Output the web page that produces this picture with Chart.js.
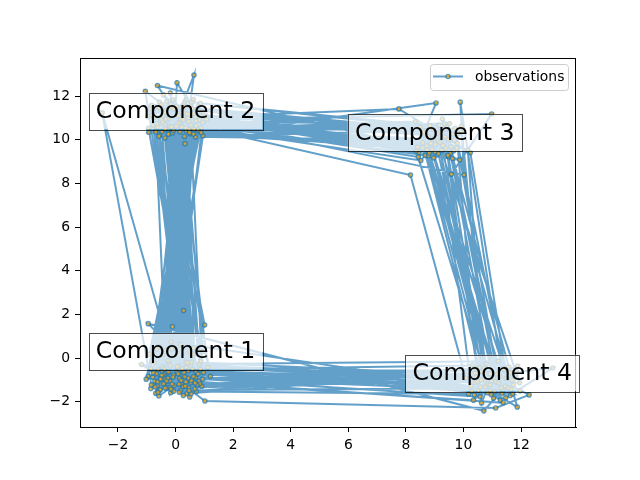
<!DOCTYPE html>
<html>
<head>
<meta charset="utf-8">
<script src="https://cdn.jsdelivr.net/npm/chart.js@4"></script>
<style>
  html, body { margin: 0; padding: 0; background: #fff; }
  #wrap { width: 640px; height: 480px; position: relative; }
</style>
</head>
<body>
<div id="wrap"><canvas id="chart"></canvas></div>
<script>
// ------------------------------------------------------------
// Sampled observations (read off the picture, in sequence order)
// ------------------------------------------------------------
const observations = [
    [0.12, -0.35], [-0.64, 0.41], [0.53, -1.12], [-0.21, 10.62], [0.74, 11.38],
    [-0.38, -0.72], [0.95, 0.28], [0.31, 10.15], [8.62, 10.41], [9.48, 9.22],
    [10.71, -0.58], [11.36, -1.47], [0.44, -0.91], [-0.82, -0.14], [0.17, 0.63],
    [-0.56, 11.72], [0.42, 10.88], [9.15, 10.67], [-0.93, 10.34], [0.08, 11.21],
    [1.12, -0.42], [-0.29, -1.36], [0.61, 0.12], [-0.47, -0.58], [10.42, -1.12],
    [11.88, -0.36], [11.05, -1.83], [8.91, 9.55], [9.84, 10.28], [-0.15, 11.46],
    [0.36, -0.18], [-0.95, -0.83], [0.88, 10.52], [-0.42, 12.05], [0.19, 10.71],
    [-0.11, 1.45], [1.05, 11.12], [-0.68, 10.43], [8.34, 10.83], [9.62, 9.14],
    [8.77, 10.12], [11.52, -0.92], [10.18, -1.64], [0.72, -1.52], [-0.33, 0.37],
    [0.26, 11.58], [0.05, -0.64], [-1.18, -0.29], [0.49, -1.78], [-0.37, 10.08],
    [0.62, 11.84], [-0.72, -1.05], [0.83, -0.27], [11.21, -0.14], [10.63, -2.05],
    [9.27, 10.95], [11.74, -1.22], [10.92, -0.71], [0.21, -1.21], [-0.58, 0.52],
    [0.97, -0.66], [-0.26, 10.96], [0.51, 10.27], [9.03, 9.78], [8.45, 9.41],
    [-0.81, 11.27], [0.33, -0.47], [-0.17, -1.58], [0.94, 10.79], [-0.49, 11.61],
    [0.58, 0.21], [-0.64, -1.27], [0.14, -0.93], [0.37, 10.41], [9.71, 10.52],
    [8.58, 9.87], [10.55, -0.43], [11.63, -1.71], [10.98, -1.05], [-0.23, -0.25],
    [0.67, -1.41], [-0.09, 11.83], [0.71, 10.64], [-0.91, 0.18], [0.26, -0.79],
    [-0.62, 10.58], [0.45, 11.15], [9.38, 9.61], [-0.34, 10.92], [1.21, -0.83],
    [-0.47, -0.39], [0.39, -1.62], [11.42, -0.55], [10.27, -1.28], [-0.15, 0.74],
    [0.81, -1.06], [-0.72, 11.49], [0.15, 10.36], [0.86, 11.67], [8.83, 10.64],
    [9.55, 9.38], [11.08, -1.54], [10.79, -0.26], [9.12, 9.93], [11.95, -1.13],
    [10.46, -0.87], [0.52, -0.31], [-0.38, -1.14], [0.29, 11.27], [-0.55, 10.21],
    [0.07, -0.46], [-0.86, -1.39], [0.63, 0.47], [-0.18, 12.14], [0.91, -1.28],
    [-0.27, -0.11], [0.48, 10.47], [-0.97, 11.05], [8.72, 9.72], [9.93, 10.36],
    [0.02, 11.53], [0.69, 10.12], [-0.53, -0.92], [0.18, -1.47], [11.31, -1.37],
    [10.64, -0.62], [9.21, 10.18], [8.52, 9.05], [-0.41, 10.81], [0.57, 11.42],
    [-0.07, -0.77], [0.76, 0.35], [-0.69, -1.61], [0.23, 10.97], [-0.31, 11.74],
    [0.44, -0.58], [-1.02, -0.96], [0.81, 10.38], [9.66, 9.49], [8.95, 10.47],
    [10.87, -1.19], [11.58, -0.41], [10.35, -1.92], [0.36, -1.09], [-0.44, 0.16],
    [0.11, 11.09], [-0.77, 10.66], [0.69, -0.88], [-0.19, -1.33], [0.52, 11.58],
    [-0.24, 10.29], [9.34, 10.74], [8.68, 9.28], [11.17, -0.74], [9.79, 9.83],
    [10.52, -1.48], [11.69, -1.02], [-0.61, -0.53], [0.27, -1.71], [0.88, -0.14],
    [-0.46, 11.31], [0.35, 10.53], [-0.28, -0.68], [0.95, 10.18], [9.05, 11.68],
    [8.41, 9.66], [-0.63, 12.48], [0.17, 10.84], [0.28, 2.18], [-0.36, -0.97],
    [0.59, -0.52], [10.31, -0.33], [12.28, -1.68], [11.12, -2.28], [1.02, -1.96],
    [-0.74, -0.21], [0.64, 12.96], [-0.12, 10.44], [0.47, 11.02], [7.76, 11.41],
    [9.47, 10.01], [8.97, 9.17], [11.45, -1.28], [10.71, -2.41], [-0.95, 1.58],
    [0.41, -0.29], [-1.05, 12.22], [0.58, 10.57], [-0.21, -1.04], [0.72, -0.63],
    [-0.56, -1.48], [0.05, 12.61], [0.83, 10.91], [10.98, 11.18], [9.58, 8.42],
    [11.87, -2.24], [10.93, -1.49], [0.32, -0.84], [1.01, 1.52], [-0.37, 10.69],
    [0.24, 11.37], [-0.67, -0.71], [0.12, -1.19], [-2.55, 11.23], [-0.84, -1.22],
    [0.49, 0.29], [0.33, 9.82], [-0.52, 10.97], [8.16, 8.38], [10.08, -0.91],
    [13.1, -0.45], [11.47, -1.81], [9.89, 11.72], [10.02, 8.39], [-0.28, 11.15],
    [0.62, 10.26], [-0.07, -1.51], [0.55, -0.19], [11.25, -0.82], [10.59, -1.33],
    [-0.41, -0.44], [0.79, 11.53], [-0.16, 10.56], [0.46, -1.37], [-0.79, -0.87],
    [0.13, 10.77], [-0.88, 11.42], [9.24, 9.51], [8.64, 10.22], [0.43, 10.99],
    [-0.32, -0.62], [0.84, -1.18], [-0.13, 0.42], [-0.47, 10.37], [0.56, 11.71],
    [9.41, 10.49], [11.34, -1.61], [10.44, -0.49], [0.19, -1.02], [-0.58, -1.73],
    [0.21, 10.58], [-0.43, 11.12], [8.87, 9.83], [9.52, 10.74], [-0.36, 10.49],
    [0.67, 11.05], [0.09, -0.71], [-0.62, -1.08], [0.48, 10.33], [-0.17, 11.62],
    [9.13, 9.36], [8.49, 10.58], [10.82, -1.21], [11.61, -0.67], [0.26, -1.31],
    [-0.39, -0.51], [0.71, 10.86], [-0.58, 10.15], [9.68, 9.97], [8.79, 9.27],
    [11.14, -1.08], [10.38, -1.69], [11.79, -0.85], [-0.27, -0.92], [0.54, -1.63],
    [0.08, 10.74], [-0.83, 11.58], [9.36, 10.12], [10.24, 9.41], [11.56, -1.36],
    [10.67, -0.97], [0.37, -0.42], [-0.71, -1.32], [0.93, 11.26], [-0.11, 10.31],
    [8.58, 9.63], [9.87, 9.08], [-0.49, 10.88], [0.31, 11.69], [-0.05, -1.26],
    [0.62, -0.84], [-0.94, 10.52], [0.41, 11.17], [9.22, 10.38], [8.36, 9.48],
    [10.96, -1.66], [11.83, -0.58], [0.15, -0.53], [-0.53, -1.44], [0.78, 10.44],
    [-0.32, 11.36], [0.55, -1.03], [-0.18, -0.34], [10.49, -1.07], [11.28, -1.93],
    [9.57, 9.67], [8.69, 10.41], [-0.66, 10.73], [0.19, 11.48], [0.86, -0.51],
    [-0.42, -1.18], [0.03, 10.62], [1.08, 10.93], [9.01, 9.44], [9.74, 10.21],
    [11.39, -0.48], [10.58, -1.76], [-0.09, -0.87], [0.47, -1.49], [-0.75, 11.01],
    [0.63, 10.47], [8.93, 10.03], [10.15, 9.52], [10.76, -1.31], [11.97, -1.49],
    [0.29, -0.66], [-0.86, -0.48], [0.38, 11.82], [-0.25, 10.25], [0.74, -1.22],
    [-0.48, -0.79], [0.17, 10.95], [-0.57, 11.45], [9.46, 9.29], [8.61, 10.32],
    [11.22, -1.14], [10.41, -0.69], [-0.16, -1.42], [0.94, -0.96], [0.52, 10.68],
    [-0.39, 11.24], [9.29, 9.74], [9.93, 10.61], [10.84, -1.58], [11.49, -0.93],
    [0.06, -0.38], [-0.61, -1.57], [0.85, 11.31], [-0.07, 10.42], [8.74, 9.52],
    [9.61, 10.26], [-0.45, 10.79], [0.36, 11.54], [0.68, -1.14], [-0.24, -0.63],
    [11.03, -0.89], [10.29, -1.52], [9.18, 9.88], [8.43, 9.21], [0.27, 10.91],
    [-0.69, 10.35], [-0.31, -1.05], [0.42, -0.21], [11.66, -1.42], [10.73, -0.47],
    [0.13, -1.56], [-0.77, -0.67], [0.61, 11.19], [-0.14, 10.59], [9.43, 10.57],
    [8.81, 9.39], [10.93, -1.22], [11.38, -2.04], [-0.52, -0.96], [0.34, -1.28],
    [-0.06, 11.41], [0.89, 10.32], [9.77, 9.62], [9.08, 10.29], [0.46, 10.83],
    [-0.82, 11.13], [0.23, -0.49], [-0.36, -1.37], [10.62, -1.01], [11.71, -1.63],
    [0.78, -0.72], [-0.12, -1.19],
];

// Component labels and where they sit (data coords)
const componentLabels = ['Component 1', 'Component 2', 'Component 3', 'Component 4'];
const componentX = [0, 0, 9, 11];
const componentY = [0, 11, 10, -1];

// Axis ranges and ticks
const xRange = [-3.32, 13.91];
const yRange = [-3.15, 13.74];
const xTicks = [-2, 0, 2, 4, 6, 8, 10, 12];
const yTicks = [-2, 0, 2, 4, 6, 8, 10, 12];

const LINE_COLOR = 'rgba(31,119,180,0.7)';
const FACE_COLOR = 'rgba(255,165,0,0.7)';
const FONT = "'DejaVu Sans', sans-serif";

const fmt = v => (v < 0 ? '\u2212' + Math.abs(v) : String(v));

/**
 * Frame, component boxes and the legend (matplotlib look)
 */
const overlayPlugin = {
    id: 'overlay',
    afterDraw(chart) {
        const { ctx, chartArea: a, scales } = chart;
        ctx.save();

        // top/right spines
        ctx.strokeStyle = '#000';
        ctx.lineWidth = 1;
        ctx.strokeRect(a.left + 0.5, a.top + 0.5, a.right - a.left - 1, a.bottom - a.top);

        // component text boxes
        ctx.font = `23.6px ${FONT}`;
        componentLabels.forEach((label, i) => {
            const cx = scales.x.getPixelForValue(componentX[i]);
            const by = scales.y.getPixelForValue(componentY[i]);
            const w = ctx.measureText(label).width;
            const pad = 7.1;
            const left = cx - w / 2 - pad;
            const top = by - 25.3;
            const bw = w + 2 * pad;
            const bh = 36.6;
            ctx.fillStyle = 'rgba(255,255,255,0.7)';
            ctx.fillRect(left, top, bw, bh);
            ctx.strokeStyle = 'rgba(0,0,0,0.7)';
            ctx.lineWidth = 1;
            ctx.strokeRect(Math.round(left) + 0.5, Math.round(top) + 0.5, Math.round(bw), Math.round(bh));
            ctx.fillStyle = '#000';
            ctx.textAlign = 'center';
            ctx.textBaseline = 'alphabetic';
            ctx.fillText(label, cx, by);
        });

        // legend
        const lx = 430.5, ly = 64.5, lw = 138, lh = 26, r = 3;
        ctx.beginPath();
        ctx.roundRect(lx, ly, lw, lh, r);
        ctx.fillStyle = 'rgba(255,255,255,0.8)';
        ctx.fill();
        ctx.strokeStyle = '#cccccc';
        ctx.lineWidth = 1;
        ctx.stroke();

        ctx.beginPath();
        ctx.moveTo(433, 76.5);
        ctx.lineTo(463, 76.5);
        ctx.strokeStyle = LINE_COLOR;
        ctx.lineWidth = 2;
        ctx.stroke();
        ctx.beginPath();
        ctx.arc(448, 76.5, 2.1, 0, Math.PI * 2);
        ctx.fillStyle = FACE_COLOR;
        ctx.fill();
        ctx.lineWidth = 1.4;
        ctx.strokeStyle = LINE_COLOR;
        ctx.stroke();

        ctx.fillStyle = '#000';
        ctx.font = `13.9px ${FONT}`;
        ctx.textAlign = 'left';
        ctx.textBaseline = 'middle';
        ctx.fillText('observations', 475, 77);

        ctx.restore();
    },
};

const axisStyle = (ticks, range) => ({
    type: 'linear',
    min: range[0],
    max: range[1],
    afterBuildTicks: scale => { scale.ticks = ticks.map(v => ({ value: v })); },
    ticks: {
        color: '#000',
        font: { family: FONT, size: 13.9 },
        padding: 5,
        callback: v => fmt(v),
        autoSkip: false,
        maxRotation: 0,
    },
    grid: {
        drawOnChartArea: false,
        drawTicks: true,
        tickLength: 5,
        color: '#000',
        tickColor: '#000',
        tickWidth: 1,
    },
    border: { display: true, color: '#000', width: 1 },
});

new Chart(document.getElementById('chart').getContext('2d'), {
    type: 'scatter',
    data: {
        datasets: [{
            label: 'observations',
            data: observations.map(([x, y]) => ({ x, y })),
            showLine: true,
            borderColor: LINE_COLOR,
            borderWidth: 2,
            pointRadius: 2.1,
            pointBorderWidth: 1.4,
            pointBackgroundColor: FACE_COLOR,
            pointBorderColor: LINE_COLOR,
            tension: 0,
        }],
    },
    options: {
        responsive: true,
        maintainAspectRatio: false,
        animation: false,
        layout: { padding: { top: 58, right: 64, left: 0, bottom: 0 } },
        plugins: {
            legend: { display: false },
            tooltip: { enabled: false },
        },
        scales: {
            x: { ...axisStyle(xTicks, xRange), position: 'bottom', afterFit: s => { s.height = 53; } },
            y: { ...axisStyle(yTicks, yRange), position: 'left', afterFit: s => { s.width = 80; } },
        },
    },
    plugins: [overlayPlugin],
});
</script>
</body>
</html>
